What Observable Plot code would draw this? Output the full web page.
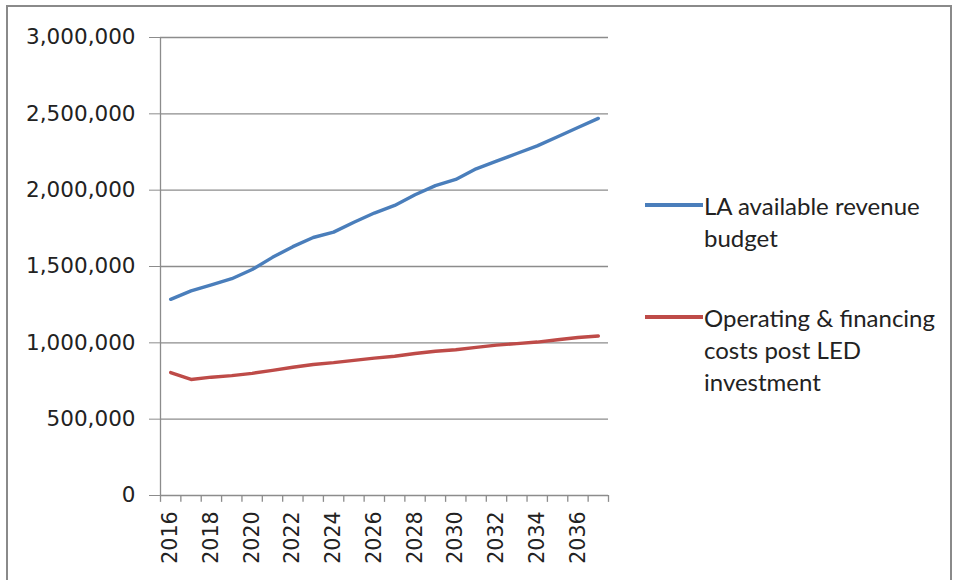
<!DOCTYPE html>
<html>
<head>
<meta charset="utf-8">
<script src="https://cdn.jsdelivr.net/npm/d3@7"></script>
<script src="https://cdn.jsdelivr.net/npm/@observablehq/plot@0.6"></script>
<style>
  html, body { margin: 0; padding: 0; background: #fff; }
  #wrap { position: relative; width: 958px; height: 580px; overflow: hidden; }
  #frame { position: absolute; left: 6px; top: 5px; width: 946px; height: 600px; border: 2.5px solid #8a8a8a; box-sizing: border-box; }
  #legend { position: absolute; left: 645px; top: 190px; font-family: Lato, "Open Sans", sans-serif; font-size: 24px; color: #222; }
  .item { position: absolute; left: 0; width: 320px; }
  .item .sw { position: absolute; left: 0; width: 58px; height: 4px; }
  .item .tx { position: absolute; left: 59px; line-height: 32px; white-space: nowrap; }
</style>
</head>
<body>
<div id="wrap">
  <div id="frame"></div>
  <div id="chart" style="position:absolute;left:0;top:0;"></div>
  <div id="legend"></div>
</div>
<script>
const years = [2016,2017,2018,2019,2020,2021,2022,2023,2024,2025,2026,2027,2028,2029,2030,2031,2032,2033,2034,2035,2036,2037];
const revenueBudget = [1285000,1340000,1380000,1420000,1480000,1560000,1630000,1690000,1725000,1790000,1850000,1900000,1970000,2030000,2070000,2140000,2190000,2240000,2290000,2350000,2410000,2470000];
const operatingCosts = [805000,760000,775000,785000,800000,820000,840000,858000,870000,885000,900000,912000,930000,945000,955000,970000,985000,995000,1005000,1020000,1035000,1045000];
const seriesNames = ["LA available revenue budget", "Operating & financing costs post LED investment"];
const legendLines = [["LA available revenue", "budget"], ["Operating & financing", "costs post LED", "investment"]];
const seriesColors = ["#4a7ebb", "#be4b48"];
const yTicks = [0,500000,1000000,1500000,2000000,2500000,3000000];
const xTickLabels = [2016,2018,2020,2022,2024,2026,2028,2030,2032,2034,2036];

const data = [];
years.forEach((y, i) => {
  data.push({year: y, value: revenueBudget[i], series: seriesNames[0]});
  data.push({year: y, value: operatingCosts[i], series: seriesNames[1]});
});
const boundaries = years.map(y => y - 0.5).concat([years[years.length - 1] + 0.5]);

const chart = Plot.plot({
  width: 958,
  height: 580,
  marginLeft: 160,
  marginRight: 350,
  marginTop: 37,
  marginBottom: 85,
  style: {fontFamily: "'DejaVu Sans', sans-serif", fontSize: "20.5px", color: "#222", background: "transparent"},
  x: {domain: [years[0] - 0.5, years[years.length - 1] + 0.5]},
  y: {domain: [0, 3000000]},
  color: {domain: seriesNames, range: seriesColors},
  marks: [
    Plot.ruleY(yTicks, {stroke: "#8c8c8c", strokeWidth: 1.3}),
    Plot.ruleX([years[0] - 0.5], {y1: 0, y2: 3000000, stroke: "#8c8c8c", strokeWidth: 1.3}),
    Plot.ruleX(boundaries, {y1: 0, y2: -45000, stroke: "#8c8c8c", strokeWidth: 1.3}),
    Plot.axisY({ticks: yTicks, tickFormat: d3.format(","), tickSize: 11, tickPadding: 14, label: null, stroke: "#8c8c8c", fontSize: 21.5}),
    Plot.axisX({ticks: xTickLabels, tickFormat: d => String(d), tickRotate: -90, tickSize: 0, tickPadding: 16, label: null, fontSize: 20.5}),
    Plot.line(data, {x: "year", y: "value", z: "series", stroke: "series", strokeWidth: 3.4, curve: "linear"})
  ]
});
document.getElementById("chart").appendChild(chart);

const legend = document.getElementById("legend");
const tops = [0, 112];
seriesNames.forEach((name, i) => {
  const item = document.createElement("div");
  item.className = "item";
  item.style.top = tops[i] + "px";
  const sw = document.createElement("div");
  sw.className = "sw";
  sw.style.background = seriesColors[i];
  sw.style.top = "13px";
  const tx = document.createElement("div");
  tx.className = "tx";
  tx.innerHTML = legendLines[i].map(s => s.replace(/&/g, "&amp;")).join("<br>");
  item.appendChild(sw);
  item.appendChild(tx);
  legend.appendChild(item);
});
</script>
</body>
</html>
